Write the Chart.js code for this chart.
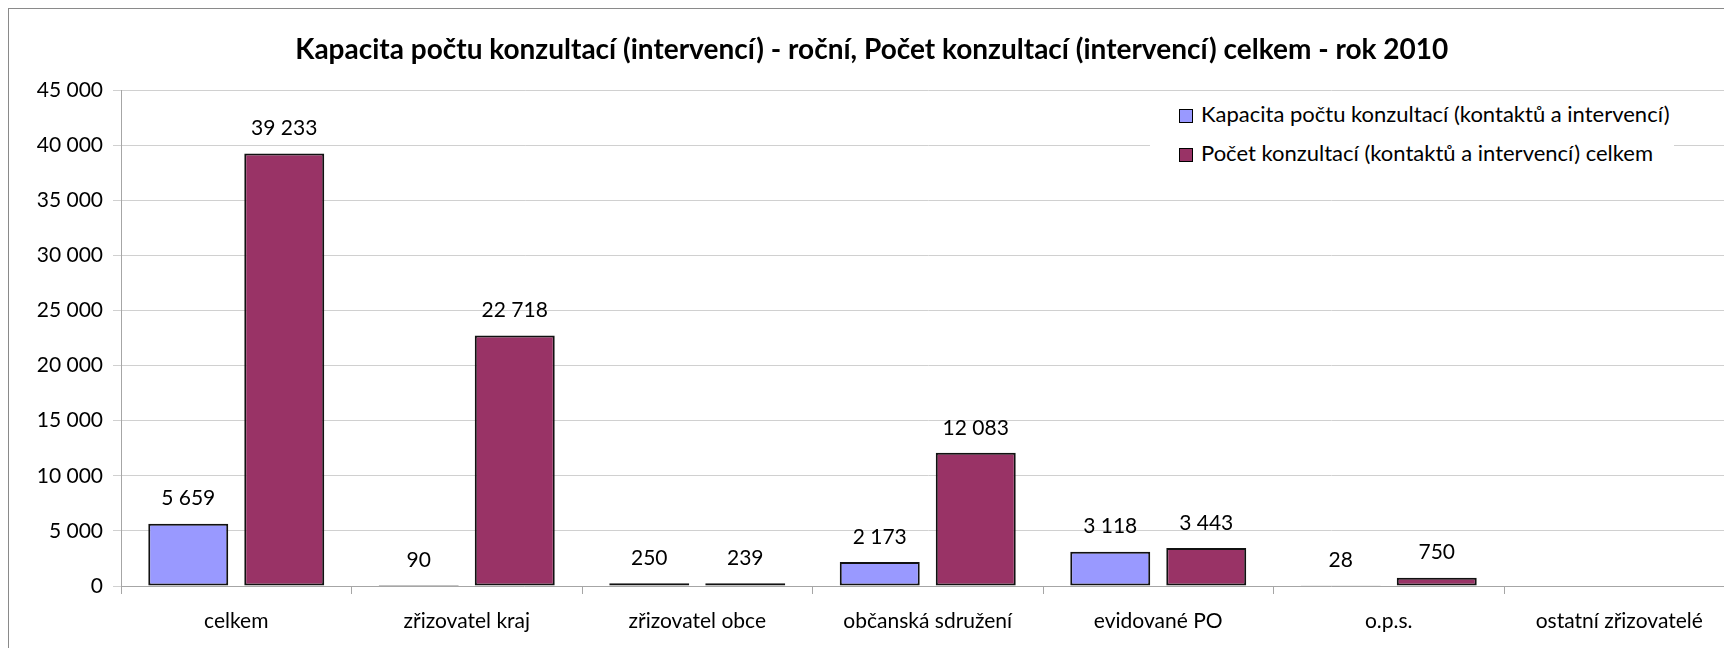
<!DOCTYPE html>
<html>
<head>
<meta charset="utf-8">
<script src="https://cdn.jsdelivr.net/npm/chart.js@4"></script>
<style>
  html, body { margin: 0; padding: 0; background: #fff; overflow: hidden; width: 1724px; height: 648px; }
  #wrap { position: absolute; left: 8px; top: 8px; width: 1728px; height: 650px; border: 1px solid #8a8a8a; background: #fff; }
  #c { position: absolute; left: 0; top: 0; }
  #legend { position: absolute; left: 1141px; top: 90px; width: 524px; height: 80px; background: #fff; font-family: Lato, "Open Sans", sans-serif; font-size: 22px; color: #000; }
  .item { position: absolute; left: 29px; height: 26px; line-height: 26px; white-space: nowrap; }
  .sw { display: inline-block; width: 12px; height: 12px; border: 1px solid #000; margin-right: 8px; vertical-align: -1px; }
</style>
</head>
<body>
<div id="wrap">
  <canvas id="c" width="1728" height="650"></canvas>
  <div id="legend"></div>
</div>
<script>
const titleText = 'Kapacita počtu konzultací (intervencí) - roční, Počet konzultací (intervencí) celkem - rok 2010';
const categories = ['celkem', 'zřizovatel kraj', 'zřizovatel obce', 'občanská sdružení', 'evidované PO', 'o.p.s.', 'ostatní zřizovatelé'];
const seriesNames = ['Kapacita počtu konzultací (kontaktů a intervencí)', 'Počet konzultací (kontaktů a intervencí) celkem'];
const capacityValues = [5659, 90, 250, 2173, 3118, 28, null];
const countValues = [39233, 22718, 239, 12083, 3443, 750, null];
const yTickValues = [0, 5000, 10000, 15000, 20000, 25000, 30000, 35000, 40000, 45000];
const seriesColors = ['#9999FF', '#993366'];

function fmt(n) {
  return String(n).replace(/\B(?=(\d{3})+(?!\d))/g, ' ');
}

const FONT = 'Lato, "Open Sans", sans-serif';

const valueLabels = {
  id: 'valueLabels',
  afterDatasetsDraw(chart) {
    const ctx = chart.ctx;
    ctx.save();
    ctx.font = '21px ' + FONT;
    ctx.fillStyle = '#000';
    ctx.textAlign = 'center';
    ctx.textBaseline = 'middle';
    chart.data.datasets.forEach((ds, di) => {
      const meta = chart.getDatasetMeta(di);
      meta.data.forEach((bar, i) => {
        const v = ds.data[i];
        if (v === null || v === undefined) return;
        ctx.fillText(fmt(v), bar.x, bar.y - 25);
      });
    });
    ctx.restore();
  }
};

const chart = new Chart(document.getElementById('c'), {
  type: 'bar',
  data: {
    labels: categories,
    datasets: [
      { label: seriesNames[0], data: capacityValues, backgroundColor: seriesColors[0], borderColor: '#111', borderWidth: 2, borderSkipped: false },
      { label: seriesNames[1], data: countValues, backgroundColor: seriesColors[1], borderColor: '#111', borderWidth: 2, borderSkipped: false }
    ]
  },
  options: {
    responsive: false,
    animation: false,
    devicePixelRatio: 1,
    datasets: { bar: { categoryPercentage: 0.833, barPercentage: 0.833 } },
    layout: { padding: { left: 0, right: 2.5, top: 0, bottom: 25 } },
    plugins: {
      legend: { display: false },
      tooltip: { enabled: false },
      title: {
        display: true,
        text: titleText,
        color: '#000',
        font: { family: FONT, size: 28, weight: 'bold' },
        padding: { top: 24.2, bottom: 23.2 }
      }
    },
    scales: {
      x: {
        offset: true,
        grid: { display: true, drawOnChartArea: false, drawTicks: true, tickLength: 8, offset: true, color: '#a6a6a6' },
        border: { display: true, color: '#a6a6a6', width: 1 },
        ticks: { color: '#000', font: { family: FONT, size: 21 }, padding: 15, maxRotation: 0, autoSkip: false },
        afterFit(scale) { scale.height = 48; }
      },
      y: {
        min: 0,
        max: 45000,
        afterBuildTicks(scale) { scale.ticks = yTickValues.map(v => ({ value: v })); },
        grid: { color: '#d0d0d0', tickLength: 8, drawTicks: true },
        border: { display: true, color: '#a6a6a6', width: 1 },
        ticks: { color: '#000', font: { family: FONT, size: 21 }, padding: 10, callback: (v) => fmt(v) },
        afterFit(scale) { scale.width = 112; }
      }
    }
  },
  plugins: [valueLabels]
});

const legend = document.getElementById('legend');
seriesNames.forEach((name, i) => {
  const d = document.createElement('div');
  d.className = 'item';
  d.style.top = (i === 0 ? 2 : 41) + 'px';
  const sw = document.createElement('span');
  sw.className = 'sw';
  sw.style.background = seriesColors[i];
  d.appendChild(sw);
  d.appendChild(document.createTextNode(name));
  legend.appendChild(d);
});
</script>
</body>
</html>
